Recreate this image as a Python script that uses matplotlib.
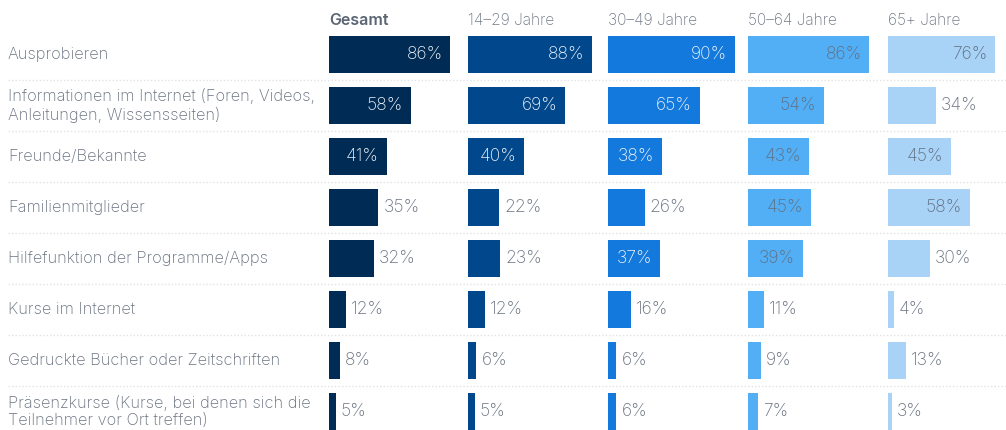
import matplotlib
matplotlib.use("Agg")
import matplotlib.pyplot as plt
from matplotlib.transforms import blended_transform_factory
from matplotlib.lines import Line2D

plt.rcParams['font.family'] = ['Inter', 'DejaVu Sans']

categories = [
    "Ausprobieren",
    "Informationen im Internet (Foren, Videos,\nAnleitungen, Wissensseiten)",
    "Freunde/Bekannte",
    "Familienmitglieder",
    "Hilfefunktion der Programme/Apps",
    "Kurse im Internet",
    "Gedruckte Bücher oder Zeitschriften",
    "Präsenzkurse (Kurse, bei denen sich die\nTeilnehmer vor Ort treffen)",
]
groups = ["Gesamt", "14–29 Jahre", "30–49 Jahre", "50–64 Jahre", "65+ Jahre"]
gesamt = [86, 58, 41, 35, 32, 12, 8, 5]
j14_29 = [88, 69, 40, 22, 23, 12, 6, 5]
j30_49 = [90, 65, 38, 26, 37, 16, 6, 6]
j50_64 = [86, 54, 43, 45, 39, 11, 9, 7]
j65 = [76, 34, 45, 58, 30, 4, 13, 3]
series = [gesamt, j14_29, j30_49, j50_64, j65]

colors = ["#002b54", "#00478b", "#1479dc", "#53aff5", "#a9d3f6"]
inside_colors = ["#eef4fb", "#eef4fb", "#eef4fb", "#5f6f82", "#5f6f82"]
outside_color = "#6a7381"
label_color = "#6a7381"

W, H = 1006, 430
fig = plt.figure(figsize=(W / 100, H / 100), dpi=100)

col_x = [329, 468, 608, 748, 888]
col_w = 141
pitch = 51
first_center = 54.5
ylim_top = -first_center / pitch
ylim_bot = (H - first_center) / pitch
bar_h = 37 / pitch
n = len(categories)

axes = []
for g, (x0, vals) in enumerate(zip(col_x, series)):
    ax = fig.add_axes([x0 / W, 0, col_w / W, 1])
    ax.set_xlim(0, 100)
    ax.set_ylim(ylim_bot, ylim_top)
    ax.axis('off')
    ax.barh(range(n), vals, height=bar_h, color=colors[g], zorder=3)
    for i, v in enumerate(vals):
        if v >= 36:
            ax.text(v - 5.5, i, f"{v}%", ha='right', va='center',
                    fontsize=12.6, color=inside_colors[g], zorder=4,
                    fontweight='light')
        else:
            ax.text(v + 3.5, i, f"{v}%", ha='left', va='center',
                    fontsize=12.6, color=outside_color, zorder=4,
                    fontweight='light')
    ax.text(0, (20 - first_center) / pitch, groups[g], ha='left', va='center',
            fontsize=11.5 if g == 0 else 11.2,
            color="#5b6573" if g == 0 else "#737b87",
            fontweight='semibold' if g == 0 else 'light')
    axes.append(ax)

ax0 = axes[0]
tr = blended_transform_factory(fig.transFigure, ax0.transData)
for i, c in enumerate(categories):
    ax0.text(8 / W, i, c, transform=tr, ha='left', va='center',
             fontsize=11.8, color=label_color, linespacing=1.22,
             fontweight='light', clip_on=False)

for i in range(n - 1):
    y = i + 0.5
    line = Line2D([8 / W, 1.0], [y, y], transform=tr, color="#e0e2e6",
                  linestyle=(0, (1, 1.5)), linewidth=1, zorder=1)
    fig.add_artist(line)

fig.savefig("out.png", dpi=100)
